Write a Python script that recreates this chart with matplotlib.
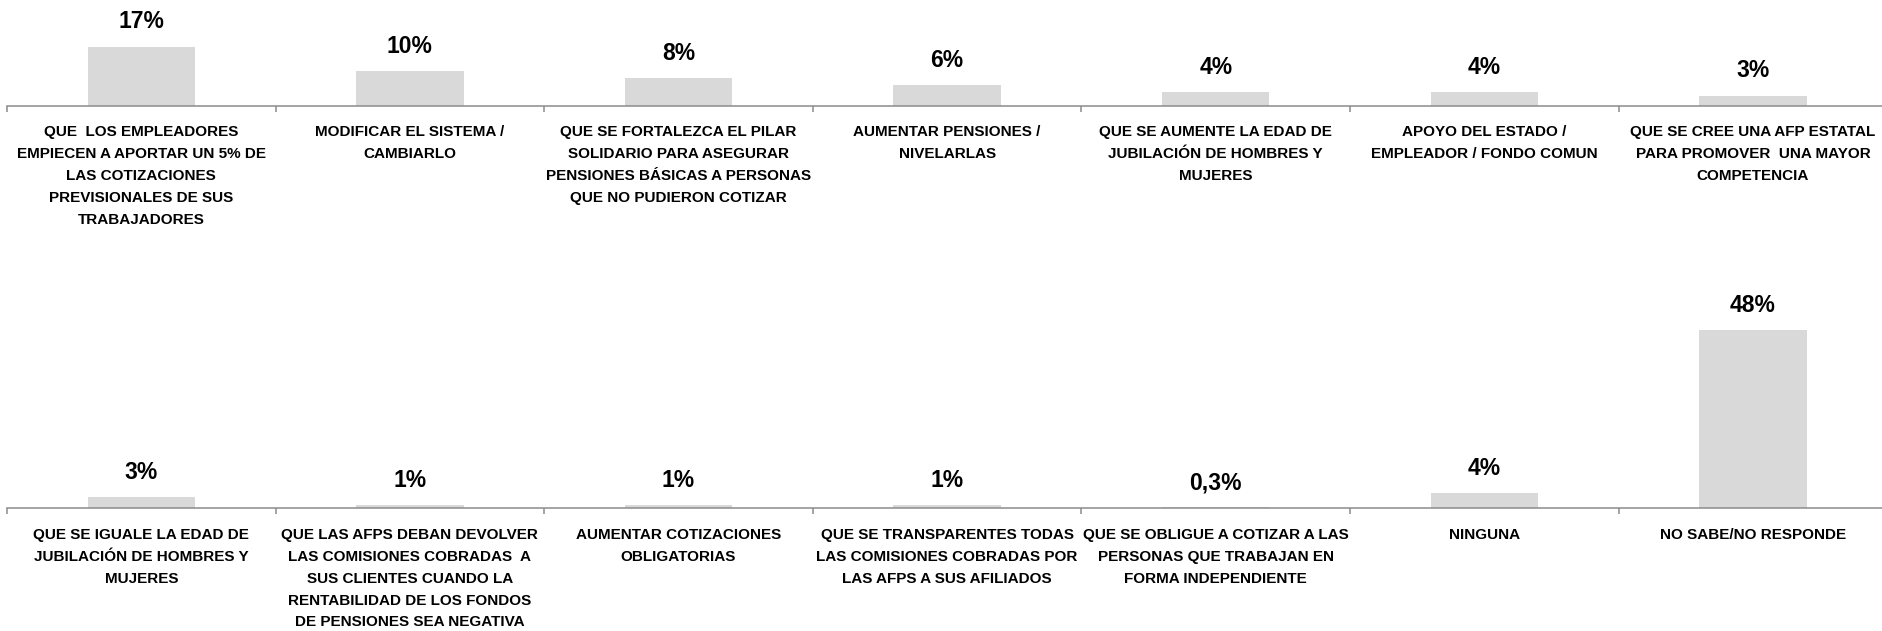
import matplotlib
matplotlib.use("Agg")
import matplotlib.pyplot as plt
import numpy as np


TOP_CATEGORIES = [
    "QUE  LOS EMPLEADORES\nEMPIECEN A APORTAR UN 5% DE\nLAS COTIZACIONES\nPREVISIONALES DE SUS\nTRABAJADORES",
    "MODIFICAR EL SISTEMA /\nCAMBIARLO",
    "QUE SE FORTALEZCA EL PILAR\nSOLIDARIO PARA ASEGURAR\nPENSIONES BÁSICAS A PERSONAS\nQUE NO PUDIERON COTIZAR",
    "AUMENTAR PENSIONES /\nNIVELARLAS",
    "QUE SE AUMENTE LA EDAD DE\nJUBILACIÓN DE HOMBRES Y\nMUJERES",
    "APOYO DEL ESTADO /\nEMPLEADOR / FONDO COMUN",
    "QUE SE CREE UNA AFP ESTATAL\nPARA PROMOVER  UNA MAYOR\nCOMPETENCIA",
]
TOP_VALUES = [17, 10, 8, 6, 4, 4, 3]

BOTTOM_CATEGORIES = [
    "QUE SE IGUALE LA EDAD DE\nJUBILACIÓN DE HOMBRES Y\nMUJERES",
    "QUE LAS AFPS DEBAN DEVOLVER\nLAS COMISIONES COBRADAS  A\nSUS CLIENTES CUANDO LA\nRENTABILIDAD DE LOS FONDOS\nDE PENSIONES SEA NEGATIVA",
    "AUMENTAR COTIZACIONES\nOBLIGATORIAS",
    "QUE SE TRANSPARENTES TODAS\nLAS COMISIONES COBRADAS POR\nLAS AFPS A SUS AFILIADOS",
    "QUE SE OBLIGUE A COTIZAR A LAS\nPERSONAS QUE TRABAJAN EN\nFORMA INDEPENDIENTE",
    "NINGUNA",
    "NO SABE/NO RESPONDE",
]
BOTTOM_VALUES = [3, 1, 1, 1, 0.3, 4, 48]

BAR_COLOR = "#d9d9d9"
AXIS_COLOR = "#8c8c8c"
FONT = ["Liberation Sans", "DejaVu Sans"]

W, H = 1883, 631


def pct(v):
    if float(v).is_integer():
        return f"{int(v)}%"
    return str(v).replace(".", ",") + "%"


def draw_row(fig, rect, cats, vals, ymax):
    ax = fig.add_axes(rect)
    ax.patch.set_alpha(0)
    x = np.arange(len(cats))
    ax.bar(x, vals, width=0.4, color=BAR_COLOR, zorder=2)
    ax.set_xlim(-0.5, len(cats) - 0.5)
    ax.set_ylim(0, ymax)
    for side in ("top", "left", "right"):
        ax.spines[side].set_visible(False)
    ax.spines["bottom"].set_color(AXIS_COLOR)
    ax.spines["bottom"].set_linewidth(1.1)
    ax.set_yticks([])

    ax.set_xticks(x)
    ax.set_xticklabels(cats, fontsize=11, fontweight="bold", family=FONT,
                       linespacing=1.72, color="black")
    ax.tick_params(axis="x", which="major", length=0, pad=14)
    ax.set_xticks(np.arange(len(cats) + 1) - 0.5, minor=True)
    ax.tick_params(axis="x", which="minor", length=4, width=1.1, color=AXIS_COLOR)

    for xi, v in zip(x, vals):
        ax.annotate(pct(v), (xi, v), xytext=(0, 13), textcoords="offset points",
                    ha="center", va="baseline", fontsize=16.5, fontweight="bold",
                    family=FONT, color="black")
    return ax


def main():
    fig = plt.figure(figsize=(W / 100, H / 100), dpi=100)
    left = 7 / W
    width = 7 * 268.6 / W

    top_ymax = 25
    draw_row(fig, [left, (H - 106) / H, width, top_ymax * 3.5 / H],
             TOP_CATEGORIES, TOP_VALUES, top_ymax)

    bottom_ymax = 52
    draw_row(fig, [left, (H - 508.3) / H, width, bottom_ymax * 3.72 / H],
             BOTTOM_CATEGORIES, BOTTOM_VALUES, bottom_ymax)

    fig.savefig("out.png", dpi=100)
    plt.close(fig)


if __name__ == "__main__":
    main()
